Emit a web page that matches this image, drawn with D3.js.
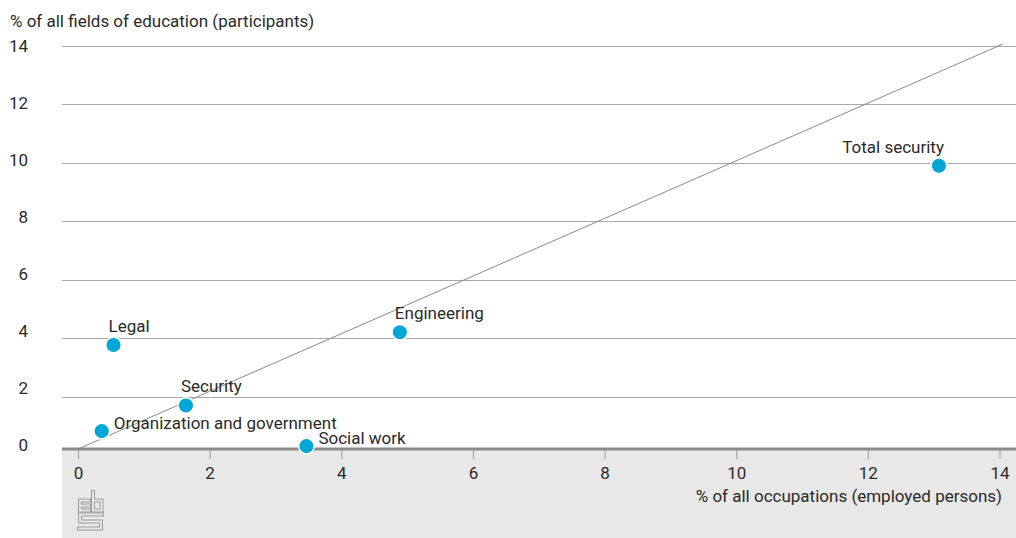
<!DOCTYPE html>
<html>
<head>
<meta charset="utf-8">
<script src="https://cdn.jsdelivr.net/npm/d3@7"></script>
<style>
  html, body { margin: 0; padding: 0; background: #ffffff; }
  svg { display: block; }
  text { font-family: Roboto, "Open Sans", "Liberation Sans", sans-serif; fill: #2a2a2a; }
</style>
</head>
<body>
<svg id="chart" width="1016" height="538"></svg>
<script>
// ---- data ----
const categories = ["Legal", "Organization and government", "Security", "Social work", "Engineering", "Total security"];
const xValues = [0.54, 0.36, 1.64, 3.47, 4.89, 13.08];   // % of all occupations (employed persons)
const yValues = [3.61, 0.62, 1.51, 0.10, 4.05, 9.83];    // % of all fields of education (participants)
const labelPlacement = ["above", "right", "above", "right", "above", "aboveEnd"];
const xTicks = [0, 2, 4, 6, 8, 10, 12, 14];
const yTicks = [0, 2, 4, 6, 8, 10, 12, 14];
const referenceLine = [0, 14.05];   // y = x line
const yTitle = "% of all fields of education (participants)";
const xTitle = "% of all occupations (employed persons)";

// ---- layout ----
const W = 1016, H = 538;
const plotLeft = 62, plotRight = 1016, baseY = 449;
const svg = d3.select("#chart");

const x = d3.scaleLinear().domain([0, 14]).range([78, 999.5]);
const y = d3.scaleLinear().domain([0, 14]).range([baseY, 45.5]);        // data marks
const yGrid = d3.scaleLinear().domain([0, 14]).range([455.2, 45.6]);    // gridlines
const yLabel = d3.scaleLinear().domain([0, 14]).range([445.5, 45.8]);   // tick labels

// grey band below the axis
svg.append("rect")
  .attr("x", plotLeft).attr("y", baseY)
  .attr("width", plotRight - plotLeft).attr("height", H - baseY)
  .attr("fill", "#e8e8e8");

// gridlines
svg.append("g").selectAll("line")
  .data(yTicks.filter(d => d > 0))
  .join("line")
  .attr("x1", plotLeft).attr("x2", plotRight)
  .attr("y1", d => Math.round(yGrid(d)) + 0.5)
  .attr("y2", d => Math.round(yGrid(d)) + 0.5)
  .attr("stroke", "#a8a8a8").attr("stroke-width", 1);

// y tick labels
const yAxis = svg.append("g")
  .attr("transform", "translate(28,0)")
  .call(d3.axisLeft(yLabel).tickValues(yTicks).tickSize(0).tickPadding(0).tickFormat(d3.format("d")));
yAxis.select(".domain").remove();
yAxis.selectAll("text")
  .attr("font-size", 17)
  .attr("font-family", "Roboto, 'Open Sans', sans-serif")
  .attr("fill", "#2a2a2a");

// x axis ticks + labels
const xAxis = svg.append("g")
  .attr("transform", `translate(0,${baseY})`)
  .call(d3.axisBottom(x).tickValues(xTicks).tickSize(10).tickPadding(8).tickFormat(d3.format("d")));
xAxis.select(".domain").remove();
xAxis.selectAll(".tick line").attr("stroke", "#9a9a9a");
xAxis.selectAll("text")
  .attr("font-size", 17)
  .attr("font-family", "Roboto, 'Open Sans', sans-serif")
  .attr("fill", "#2a2a2a");

// baseline
svg.append("line")
  .attr("x1", plotLeft).attr("x2", plotRight)
  .attr("y1", baseY).attr("y2", baseY)
  .attr("stroke", "#8c8c8c").attr("stroke-width", 3);

// reference line y = x
svg.append("path")
  .datum(referenceLine)
  .attr("d", d3.line().x(d => x(d)).y(d => y(d)))
  .attr("fill", "none")
  .attr("stroke", "#8a8a8a")
  .attr("stroke-width", 1);

// titles
svg.append("text")
  .attr("x", 10).attr("y", 27)
  .attr("font-size", 17)
  .text(yTitle);

svg.append("text")
  .attr("x", 1002).attr("y", 502)
  .attr("text-anchor", "end")
  .attr("font-size", 17)
  .text(xTitle);

// points
const pts = categories.map((c, i) => ({ name: c, x: xValues[i], y: yValues[i], pos: labelPlacement[i] }));

svg.append("g").selectAll("circle")
  .data(pts)
  .join("circle")
  .attr("cx", d => x(d.x))
  .attr("cy", d => y(d.y))
  .attr("r", 7.8)
  .attr("fill", "#00a6d6")
  .attr("stroke", "#ffffff")
  .attr("stroke-width", 1.5);

svg.append("g").selectAll("text")
  .data(pts)
  .join("text")
  .attr("font-size", 17)
  .attr("x", d => d.pos === "right" ? x(d.x) + 12 : d.pos === "aboveEnd" ? x(d.x) + 5 : x(d.x) - 5)
  .attr("y", d => d.pos === "right" ? y(d.y) - 2 : y(d.y) - 13)
  .attr("text-anchor", d => d.pos === "aboveEnd" ? "end" : "start")
  .text(d => d.name);

// CBS logo (outlined glyphs)
const logo = svg.append("g").attr("transform", "translate(78,491)");
const logoPaths = [
  "M11,9.5 H2 V19.5 H11 M2,14.5 H11",
  "M15,1 V19.5 H23.5 V9.5 H15",
  "M24,23.5 H2 V30.5 H23 V37.5 H1"
];
logoPaths.forEach(p => {
  logo.append("path").attr("d", p).attr("fill", "none")
    .attr("stroke", "#9a9a9a").attr("stroke-width", 4).attr("stroke-linejoin", "miter").attr("stroke-linecap", "square");
  logo.append("path").attr("d", p).attr("fill", "none")
    .attr("stroke", "#e8e8e8").attr("stroke-width", 2).attr("stroke-linejoin", "miter").attr("stroke-linecap", "square");
});
</script>
</body>
</html>
